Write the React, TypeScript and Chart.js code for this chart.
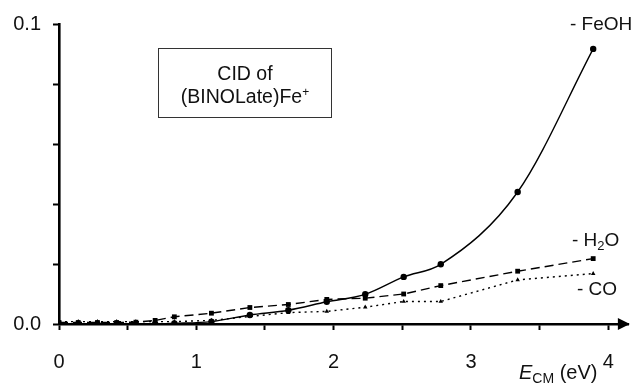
import React, { useEffect, useRef } from "react";
import { Chart, registerables } from "chart.js";

Chart.register(...registerables);

// Collision energy (eV, CM frame)
const energy = [0, 0.14, 0.28, 0.42, 0.56, 0.7, 0.84, 1.11, 1.39, 1.67, 1.95, 2.23, 2.51, 2.78, 3.34, 3.89];
// Cross sections for each channel
const feohLoss = [0, 0, 0, 0, 0, 0, 0.0002, 0.0008, 0.003, 0.0046, 0.0074, 0.0099, 0.0157, 0.0199, 0.044, 0.0917];
const h2oLoss = [0.0005, 0.0005, 0.0005, 0.0005, 0.0006, 0.0012, 0.0024, 0.0036, 0.0055, 0.0065, 0.0082, 0.0086, 0.01, 0.0128, 0.0176, 0.0218];
const coLoss = [0.0008, 0.0008, 0.0008, 0.0008, 0.0008, 0.0008, 0.0008, 0.0012, 0.0025, 0.0038, 0.0042, 0.0056, 0.0075, 0.0075, 0.0147, 0.0168];

const xTickValues = [0, 0.5, 1, 1.5, 2, 2.5, 3, 3.5, 4];
const yTickValues = [0, 0.02, 0.04, 0.06, 0.08, 0.1];
const yTickLabels: Record<string, string> = { "0": "0.0", "0.1": "0.1" };

const FONT = "'Liberation Sans', Arial, sans-serif";

const arrowPlugin = {
  id: "xArrow",
  afterDraw(chart: any) {
    const { ctx, chartArea } = chart;
    const y = chartArea.bottom;
    const x = chartArea.right;
    ctx.save();
    ctx.fillStyle = "#000";
    ctx.beginPath();
    ctx.moveTo(x + 1, y);
    ctx.lineTo(x - 11, y - 6);
    ctx.lineTo(x - 11, y + 6);
    ctx.closePath();
    ctx.fill();
    ctx.restore();
  },
};

export default function App() {
  const ref = useRef<HTMLCanvasElement | null>(null);

  useEffect(() => {
    document.body.style.margin = "0";
    const toPts = (ys: number[]) => energy.map((x, i) => ({ x, y: ys[i] }));
    const chart = new Chart(ref.current as HTMLCanvasElement, {
      type: "line",
      data: {
        datasets: [
          {
            label: "FeOH",
            data: toPts(feohLoss),
            borderColor: "#000",
            backgroundColor: "#000",
            borderWidth: 1.4,
            cubicInterpolationMode: "monotone",
            pointStyle: "circle",
            pointRadius: 3.2,
            pointBorderWidth: 0,
          },
          {
            label: "H2O",
            data: toPts(h2oLoss),
            borderColor: "#000",
            backgroundColor: "#000",
            borderWidth: 1.4,
            borderDash: [9, 5],
            tension: 0,
            pointStyle: "rect",
            pointRadius: 3.4,
            pointBorderWidth: 0,
          },
          {
            label: "CO",
            data: toPts(coLoss),
            borderColor: "#000",
            backgroundColor: "#000",
            borderWidth: 1.4,
            borderDash: [2, 4],
            tension: 0,
            pointStyle: "triangle",
            pointRadius: 2.6,
            pointBorderWidth: 0,
          },
        ],
      },
      options: {
        animation: false,
        responsive: false,
        events: [],
        layout: { padding: { top: 22, right: 1, left: 0, bottom: 0 } },
        plugins: { legend: { display: false }, tooltip: { enabled: false } },
        scales: {
          x: {
            type: "linear",
            min: 0,
            max: 4.15,
            afterBuildTicks: (scale: any) => {
              scale.ticks = xTickValues.map((v) => ({ value: v }));
            },
            afterFit: (scale: any) => {
              scale.height = 59;
            },
            ticks: {
              autoSkip: false,
              maxRotation: 0,
              padding: 20,
              color: "#111",
              font: { family: FONT, size: 20 },
              callback: (v: any) => (Number.isInteger(v) ? String(v) : ""),
            },
            grid: { drawOnChartArea: false, drawTicks: true, tickLength: 6, tickColor: "#000", tickWidth: 2 },
            border: { display: true, color: "#000", width: 2.4 },
          },
          y: {
            type: "linear",
            min: 0,
            max: 0.1,
            afterBuildTicks: (scale: any) => {
              scale.ticks = yTickValues.map((v) => ({ value: v }));
            },
            afterFit: (scale: any) => {
              scale.width = 59;
            },
            ticks: {
              autoSkip: false,
              padding: 12,
              color: "#111",
              font: { family: FONT, size: 20 },
              callback: (v: any) => yTickLabels[String(Math.round(v * 100) / 100)] ?? "",
            },
            grid: { drawOnChartArea: false, drawTicks: true, tickLength: 6, tickColor: "#000", tickWidth: 2 },
            border: { display: true, color: "#000", width: 2.6 },
          },
        },
      },
      plugins: [arrowPlugin],
    } as any);
    return () => chart.destroy();
  }, []);

  const label: React.CSSProperties = {
    position: "absolute",
    fontFamily: FONT,
    fontSize: 19,
    color: "#111",
    whiteSpace: "nowrap",
    lineHeight: "20px",
  };

  return (
    <div style={{ position: "relative", width: 634, height: 383, background: "#fff", overflow: "hidden" }}>
      <canvas ref={ref} width={634} height={383} style={{ position: "absolute", left: 0, top: 0 }} />
      <div style={{ ...label, left: 570, top: 14 }}>- FeOH</div>
      <div style={{ ...label, left: 572, top: 230 }}>
        - H<sub style={{ fontSize: 13, verticalAlign: "-4px", lineHeight: 0 }}>2</sub>O
      </div>
      <div style={{ ...label, left: 577, top: 279 }}>- CO</div>
      <div style={{ ...label, left: 519, top: 362, fontSize: 20 }}>
        <i>E</i>
        <sub style={{ fontSize: 14, verticalAlign: "-4px", lineHeight: 0 }}>CM</sub> (eV)
      </div>
      <div
        style={{
          position: "absolute",
          left: 158,
          top: 48,
          width: 174,
          height: 70,
          boxSizing: "border-box",
          border: "1.5px solid #333",
          fontFamily: FONT,
          fontSize: 19.5,
          color: "#111",
          textAlign: "center",
          lineHeight: "23px",
          paddingTop: 13,
        }}
      >
        CID of
        <br />
        (BINOLate)Fe
        <sup style={{ fontSize: 12, verticalAlign: "7px", lineHeight: 0 }}>+</sup>
      </div>
    </div>
  );
}
